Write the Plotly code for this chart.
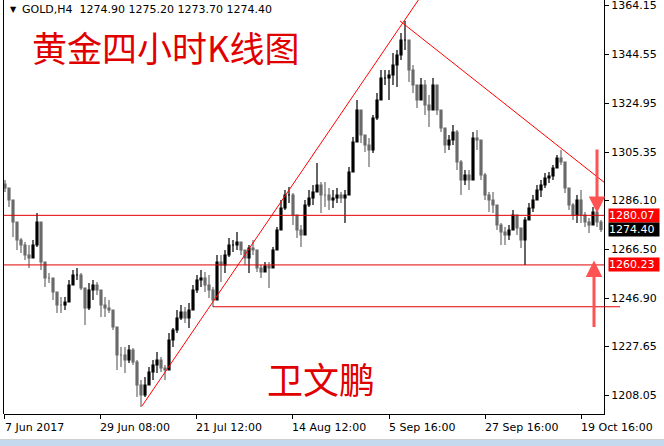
import plotly.graph_objects as go

# ---------------- data (H4 bars, 4-bar groups, bar index x) ----------------
highs = [1294.2,1290.2,1281.4,1275.4,1271.0,1269.4,1268.2,1270.2,1281.0,1270.2,
         1260.2,1257.0,1254.2,1248.2,1247.4,1247.4,1254.2,1258.2,1259.0,1257.0,
         1250.2,1253.0,1254.2,1253.4,1250.2,1247.4,1246.2,1242.2,1234.2,1227.4,
         1227.4,1228.2,1227.0,1222.2,1214.2,1215.4,1219.4,1222.2,1225.4,1223.4,
         1220.2,1233.0,1235.0,1242.2,1244.2,1243.4,1245.0,1252.2,1256.2,1258.2,
         1257.4,1256.2,1251.4,1264.2,1264.2,1266.2,1271.0,1270.2,1273.4,1269.4,
         1266.2,1268.2,1270.2,1266.2,1260.2,1261.4,1261.4,1267.4,1275.4,1286.2,
         1290.2,1291.4,1289.0,1280.2,1276.2,1286.2,1290.2,1292.2,1301.0,1293.4,
         1293.4,1291.0,1290.2,1291.0,1289.4,1290.2,1299.4,1311.4,1326.2,1322.2,
         1312.2,1311.0,1320.2,1329.0,1338.2,1338.2,1338.2,1345.0,1346.2,1353.0,
         1357.8,1350.2,1340.2,1332.2,1335.0,1334.2,1328.2,1335.0,1330.2,1322.2,
         1315.0,1312.2,1316.2,1314.2,1302.2,1298.2,1298.2,1313.4,1314.2,1308.2,
         1297.0,1289.4,1289.4,1284.2,1277.0,1275.4,1276.2,1282.2,1279.0,1275.0,
         1279.4,1285.0,1288.2,1292.2,1294.2,1297.0,1297.4,1300.2,1304.2,1306.2,
         1300.2,1290.2,1285.0,1288.2,1290.2,1281.4,1279.0,1283.4,1282.2,1278.2]
lows = [1289.4,1283.4,1271.4,1266.2,1265.0,1262.2,1259.0,1265.0,1267.4,1258.2,
        1251.4,1253.0,1246.2,1241.0,1241.0,1242.2,1246.2,1253.0,1254.2,1250.2,
        1236.2,1242.2,1246.2,1248.2,1239.4,1239.4,1241.0,1234.2,1218.2,1219.4,
        1217.0,1221.0,1220.2,1207.4,1203.4,1207.4,1212.2,1214.2,1217.0,1217.4,
        1214.2,1219.0,1227.4,1233.0,1238.2,1237.0,1235.0,1244.2,1249.0,1251.4,
        1249.4,1247.0,1243.4,1247.0,1253.4,1257.0,1263.4,1265.4,1266.2,1264.2,
        1260.2,1257.0,1264.2,1257.4,1255.0,1257.4,1251.0,1259.0,1266.2,1274.2,
        1282.2,1285.0,1276.2,1271.0,1267.4,1274.2,1283.4,1284.2,1289.4,1281.0,
        1283.4,1282.2,1283.0,1285.0,1285.0,1277.0,1288.2,1297.4,1312.2,1309.0,
        1305.4,1299.4,1305.0,1318.2,1326.2,1332.2,1326.2,1332.2,1331.4,1342.2,
        1346.2,1333.4,1329.0,1323.0,1326.2,1320.2,1315.4,1326.2,1320.2,1313.4,
        1305.0,1306.2,1308.2,1298.2,1288.2,1292.2,1290.2,1295.0,1306.2,1294.2,
        1286.2,1281.4,1281.0,1274.2,1268.2,1268.2,1270.2,1274.2,1272.2,1267.0,
        1260.2,1278.2,1281.4,1286.2,1287.4,1291.0,1293.0,1294.2,1299.0,1300.2,
        1289.0,1282.2,1278.2,1277.0,1277.0,1275.4,1273.0,1276.2,1275.4,1273.4]
closes = [1291.0,1286.2,1277.4,1270.2,1268.2,1264.2,1263.0,1268.2,1277.4,1261.4,
          1255.0,1255.0,1249.4,1244.2,1244.2,1245.4,1252.2,1256.2,1256.2,1251.0,
          1243.0,1250.2,1252.2,1250.2,1244.2,1243.0,1242.2,1235.4,1224.2,1224.2,
          1222.2,1226.2,1221.4,1212.2,1208.2,1212.2,1217.4,1220.2,1222.2,1219.0,
          1218.2,1230.2,1234.2,1239.0,1241.4,1239.0,1242.2,1250.2,1254.2,1255.0,
          1252.2,1250.2,1246.2,1261.4,1260.2,1264.2,1268.2,1268.2,1269.4,1266.2,
          1263.0,1267.0,1266.2,1259.0,1257.4,1259.8,1259.0,1266.2,1274.2,1283.0,
          1288.2,1288.2,1280.2,1274.2,1272.2,1284.2,1287.0,1289.4,1292.2,1288.2,
          1288.2,1286.2,1287.0,1288.2,1287.0,1288.2,1297.4,1309.4,1322.2,1312.2,
          1308.2,1306.2,1319.0,1326.2,1335.0,1335.0,1336.2,1340.2,1344.2,1350.2,
          1350.2,1338.2,1332.2,1326.2,1332.2,1324.2,1322.2,1332.2,1322.2,1315.0,
          1308.2,1310.2,1313.4,1301.4,1294.2,1296.2,1294.2,1311.0,1310.2,1296.2,
          1288.2,1286.2,1284.2,1276.2,1273.4,1272.2,1274.2,1280.2,1275.0,1270.2,
          1278.2,1283.0,1286.2,1290.2,1292.2,1295.0,1295.8,1299.0,1303.0,1301.4,
          1291.0,1284.2,1280.2,1286.2,1280.2,1277.4,1276.2,1281.4,1277.4,1274.4]
first_open = 1292.6

x_tick_pos = [-0.1, 23.75, 47.75, 71.75, 96, 120, 144]
x_tick_text = ["7 Jun 2017", "29 Jun 08:00", "21 Jul 12:00", "14 Aug 12:00",
               "5 Sep 16:00", "27 Sep 16:00", "19 Oct 16:00"]
y_tick_vals = [1364.15, 1344.55, 1324.95, 1305.35, 1286.10, 1266.50, 1246.90, 1227.65, 1208.05]

level_lines = [1280.07, 1260.23]
support_line = 1243.5
support_start = 52
trend_up_x = [34.25, 98.75]
trend_up_y = [1203.8, 1355.4]
trend_dn_x = [98.75, 150.0]
trend_dn_y = [1357.8, 1293.0]

header = "GOLD,H4  1274.90 1275.20 1273.70 1274.40"
last_price = 1274.40

# ---------------- build ----------------
n = len(closes)
idx = list(range(n))
opens = [first_open] + closes[:-1]
hi_eff = [max(h, o, c) for h, o, c in zip(highs, opens, closes)]
lo_eff = [min(l, o, c) for l, o, c in zip(lows, opens, closes)]

W, H = 664, 446
ML, MR, MT, MB = 4, 60, 0, 32
PW, PH = W - ML - MR, H - MT - MB
XR = [-0.25, 149.75]
YR = [1200.6, 1366.2]

def px(xp):
    return (xp - ML) / PW

def py(yp):
    return (H - MB - yp) / PH

fig = go.Figure()
fig.add_trace(go.Candlestick(x=idx, open=opens, high=hi_eff, low=lo_eff, close=closes,
                             increasing=dict(line=dict(color="#000000", width=1.2), fillcolor="#000000"),
                             decreasing=dict(line=dict(color="#6a6a6a", width=1.2), fillcolor="#6a6a6a"),
                             whiskerwidth=0, hoverinfo="skip", showlegend=False))

# trend lines (extended rays)
s1 = (trend_up_y[1] - trend_up_y[0]) / (trend_up_x[1] - trend_up_x[0])
ext_x = 106
fig.add_trace(go.Scatter(x=[trend_up_x[0], ext_x],
                         y=[trend_up_y[0], trend_up_y[0] + s1 * (ext_x - trend_up_x[0])],
                         mode="lines", line=dict(color="#ff0000", width=1),
                         hoverinfo="skip", showlegend=False))
fig.add_trace(go.Scatter(x=trend_dn_x, y=trend_dn_y, mode="lines",
                         line=dict(color="#ff0000", width=1),
                         hoverinfo="skip", showlegend=False))

shapes = []
for lv in level_lines:
    shapes.append(dict(type="line", xref="paper", yref="y", x0=0, x1=1, y0=lv, y1=lv,
                       line=dict(color="#e00000", width=1)))
sx0 = (support_start - XR[0]) / (XR[1] - XR[0])
shapes.append(dict(type="line", xref="paper", yref="y", x0=sx0, x1=px(620),
                   y0=support_line, y1=support_line, line=dict(color="#e00000", width=1)))
# left border
shapes.append(dict(type="line", xref="paper", yref="paper", x0=px(3.5), x1=px(3.5), y0=0, y1=1,
                   line=dict(color="#000000", width=1)))
# bottom status strip
shapes.append(dict(type="rect", xref="paper", yref="paper", x0=-0.05, x1=1.2,
                   y0=py(447), y1=py(440), fillcolor="#c4d8ee", line=dict(width=0)))
shapes.append(dict(type="line", xref="paper", yref="paper", x0=-0.05, x1=1.2,
                   y0=py(439.5), y1=py(439.5), line=dict(color="#d0d0d0", width=1)))

ann = []
# x labels, left-aligned at tick
for xv, t in zip(x_tick_pos, x_tick_text):
    ann.append(dict(x=xv, y=0, xref="x", yref="paper", text=t, showarrow=False,
                    xanchor="left", yanchor="top", yshift=-5, xshift=-2,
                    font=dict(family="DejaVu Sans", size=11, color="#000000")))
# price boxes
for val, bg in [(level_lines[0], "#ff0000"), (last_price, "#000000"), (level_lines[1], "#ff0000")]:
    ann.append(dict(x=1, y=val, xref="paper", yref="y", text="%.2f" % val, showarrow=False,
                    xanchor="left", yanchor="middle", xshift=4, bgcolor=bg,
                    width=50, height=13, align="left", borderpad=0,
                    font=dict(family="DejaVu Sans", size=11, color="#ffffff")))
# header
ann.append(dict(x=px(8), y=py(10), xref="paper", yref="paper", text="▼", showarrow=False,
                xanchor="left", yanchor="middle", font=dict(family="DejaVu Sans", size=8, color="#000000")))
ann.append(dict(x=px(20), y=py(10), xref="paper", yref="paper", text=header, showarrow=False,
                xanchor="left", yanchor="middle", font=dict(family="DejaVu Sans", size=11, color="#000000")))
# titles
ann.append(dict(x=px(30), y=py(47), xref="paper", yref="paper", text="黄金四小时K线图", showarrow=False,
                xanchor="left", yanchor="middle",
                font=dict(family="Noto Sans CJK SC", size=35, color="#e00000")))
ann.append(dict(x=px(265), y=py(378), xref="paper", yref="paper", text="卫文鹏", showarrow=False,
                xanchor="left", yanchor="middle",
                font=dict(family="Noto Sans CJK SC", size=36, color="#e00000")))
# arrows
ann.append(dict(x=148, y=1281.0, xref="x", yref="y", ax=0, ay=-65, showarrow=True,
                arrowhead=2, arrowsize=1.1, arrowwidth=3, arrowcolor="#ff5252", text=""))
ann.append(dict(x=147.25, y=1262.0, xref="x", yref="y", ax=0, ay=68, showarrow=True,
                arrowhead=2, arrowsize=1.1, arrowwidth=3, arrowcolor="#ff5252", text=""))

fig.update_layout(
    width=W, height=H, margin=dict(l=ML, r=MR, t=MT, b=MB, pad=0, autoexpand=False),
    paper_bgcolor="#ffffff", plot_bgcolor="#ffffff",
    shapes=shapes, annotations=ann, showlegend=False,
    xaxis=dict(range=XR, showgrid=False, zeroline=False, showline=True, linecolor="#000000",
               linewidth=1, ticks="outside", ticklen=4, tickcolor="#000000",
               tickvals=x_tick_pos, showticklabels=False, rangeslider=dict(visible=False),
               fixedrange=True, automargin=False),
    yaxis=dict(range=YR, side="right", showgrid=False, zeroline=False, showline=True,
               linecolor="#000000", linewidth=1, ticks="outside", ticklen=4, tickcolor="#000000",
               tickvals=y_tick_vals, ticktext=["%.2f" % v for v in y_tick_vals],
               tickfont=dict(family="DejaVu Sans", size=11, color="#000000"),
               ticklabeloverflow="allow", fixedrange=True, automargin=False),
)
fig.write_html("out.html", config={"displayModeBar": False},
               post_script="document.body.style.margin='0';document.body.style.overflow='hidden';")
